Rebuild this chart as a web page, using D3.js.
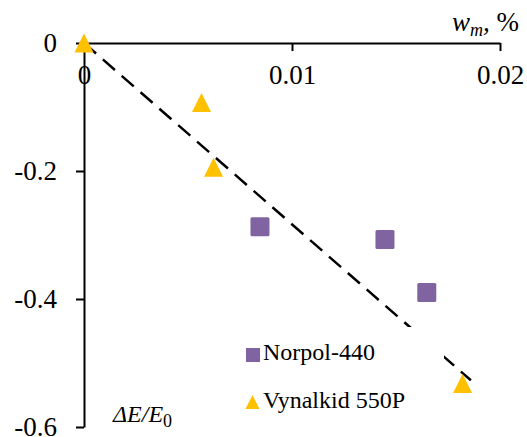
<!DOCTYPE html>
<html><head><meta charset="utf-8"><script src="https://cdn.jsdelivr.net/npm/d3@7"></script></head>
<body style="margin:0">
<svg id="chart" width="527" height="437"></svg>
<script>
// data
var norpolX = [0.00846, 0.01447, 0.01648];
var norpolY = [-0.287, -0.307, -0.390];
var vynalX = [0, 0.00565, 0.00623, 0.0182];
var vynalY = [0, -0.093, -0.194, -0.532];
var trendX = [0, 0.0186];
var trendY = [0, -0.527];
var xTicks = [0, 0.01, 0.02];
var yTicks = [0, -0.2, -0.4, -0.6];
var legendNames = ['Norpol-440', 'Vynalkid 550P'];

var PURPLE = '#8064A2', GOLD = '#FFC000';
var FONT = 'Liberation Serif';
var svg = d3.select('#chart');
var x = d3.scaleLinear().domain([0, 0.02]).range([84, 500]);
var y = d3.scaleLinear().domain([-0.6, 0]).range([427, 43]);

function styleAxis(g) {
  g.attr('font-family', FONT).attr('font-size', 27);
  g.selectAll('.domain').attr('stroke', '#000').attr('stroke-width', 2);
  g.selectAll('.tick line').attr('stroke', '#000').attr('stroke-width', 2);
  g.selectAll('.tick text').attr('fill', '#000');
}

// y axis
var gy = svg.append('g').attr('transform', 'translate(' + x(0) + ',0)')
  .call(d3.axisLeft(y).tickValues(yTicks).tickSize(8).tickSizeOuter(0).tickPadding(19)
    .tickFormat(function (d) { return d === 0 ? '0' : d.toFixed(1); }));
styleAxis(gy);

// x axis sits on the top (y = 0)
var gx = svg.append('g').attr('transform', 'translate(0,' + y(0) + ')')
  .call(d3.axisBottom(x).tickValues(xTicks).tickSize(8).tickSizeOuter(0).tickPadding(14)
    .tickFormat(function (d) { return d === 0 ? '0' : String(d); }));
styleAxis(gx);
gx.selectAll('.tick').filter(function (d) { return d === 0; }).select('line').remove();

// trend line
var line = d3.line().x(function (d) { return x(d[0]); }).y(function (d) { return y(d[1]); });
svg.append('path')
  .datum(d3.zip(trendX, trendY))
  .attr('d', line)
  .attr('fill', 'none').attr('stroke', '#000').attr('stroke-width', 2.5)
  .attr('stroke-dasharray', '16,9');

// markers
var S = 19;
function tri(cx, cy, s) {
  var h = s / 2;
  return 'M' + cx + ',' + (cy - h) + 'L' + (cx + h) + ',' + (cy + h) + 'L' + (cx - h) + ',' + (cy + h) + 'Z';
}
svg.append('g').selectAll('rect').data(d3.zip(norpolX, norpolY)).join('rect')
  .attr('x', function (d) { return x(d[0]) - S / 2; })
  .attr('y', function (d) { return y(d[1]) - S / 2; })
  .attr('width', S).attr('height', S).attr('rx', 1.5)
  .attr('fill', PURPLE);
svg.append('g').selectAll('path').data(d3.zip(vynalX, vynalY)).join('path')
  .attr('d', function (d) { return tri(x(d[0]), y(d[1]), S); })
  .attr('fill', GOLD);

// legend (white box hides the trend line behind it)
var lg = svg.append('g');
lg.append('rect').attr('x', 240).attr('y', 327).attr('width', 204).attr('height', 90).attr('fill', '#fff');
legendNames.forEach(function (name, i) {
  var by = 360 + i * 48;
  if (i === 0) lg.append('rect').attr('x', 246).attr('y', by - 12).attr('width', 14).attr('height', 14).attr('fill', PURPLE);
  else lg.append('path').attr('d', tri(252.5, by - 6, 14)).attr('fill', GOLD);
  lg.append('text').attr('x', 263).attr('y', by).attr('font-family', FONT).attr('font-size', 24).text(name);
});

// axis titles
var xt = svg.append('text').attr('x', 452).attr('y', 31).attr('font-family', FONT).attr('font-size', 27);
xt.append('tspan').attr('font-style', 'italic').text('w');
xt.append('tspan').attr('font-style', 'italic').attr('font-size', 18).attr('dy', 5).text('m');
xt.append('tspan').attr('font-style', 'italic').attr('dy', -5).text(',');
xt.append('tspan').text(' %');

var yt = svg.append('text').attr('x', 113).attr('y', 422).attr('font-family', FONT).attr('font-size', 24);
yt.append('tspan').attr('font-style', 'italic').text('\u0394E/E');
yt.append('tspan').attr('font-size', 18).attr('dy', 5).text('0');
</script>
</body></html>
